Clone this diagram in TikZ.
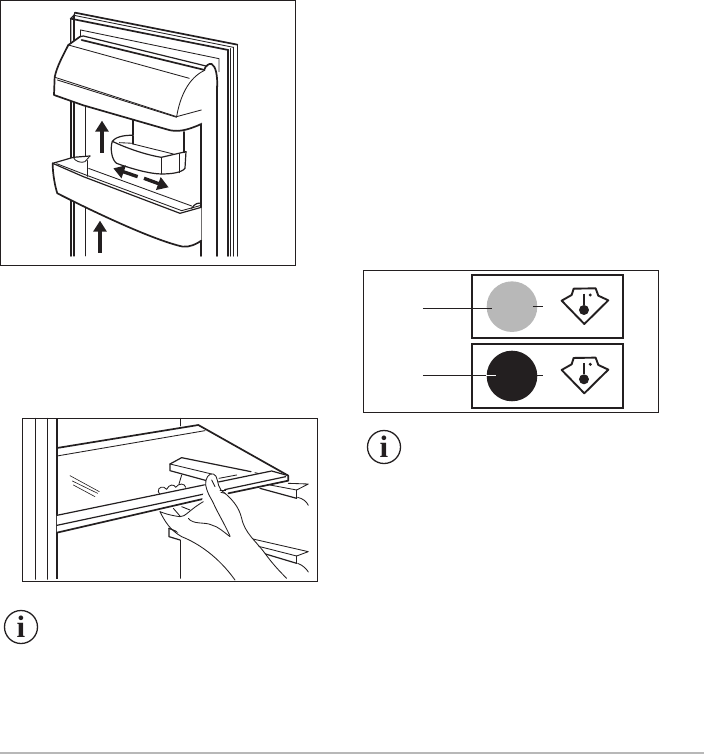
\documentclass[tikz,border=0pt]{standalone}
\usepackage{fontspec}
\newfontfamily\infofont{Liberation Serif}
\usetikzlibrary{arrows.meta}
\definecolor{ink}{HTML}{231F20}
\tikzset{
  ln/.style={draw=ink,line width=0.85pt,line join=round,line cap=round},
  thin line/.style={draw=ink,line width=0.6pt,line join=round,line cap=round},
  mid/.style={draw=ink,line width=1.2pt,line join=round,line cap=round},
  thick line/.style={draw=ink,line width=1.7pt,line join=round,line cap=round},
  frame/.style={draw=ink,line width=1pt},
  wf/.style={fill=white},
  bigarrow/.style={draw=ink,line width=3.4pt,-{Triangle[length=11pt,width=13pt]}},
  info/.style={circle,draw=ink,line width=1.3pt,minimum size=33pt,inner sep=0pt,font=\infofont\bfseries\fontsize{31}{31}\selectfont,text=ink},
  lamp/.style={circle,minimum size=50.6pt,inner sep=0pt},
  leader/.style={draw=ink,line width=1pt},
  tip/.style={draw=ink,line width=1.9pt,line join=round,fill=white}
}
\newcommand{\thermoicon}[1]{%
  \begin{scope}[yshift=#1]
    \path[tip] (620,107) -- (650,90) .. controls (654,86) and (652,76) .. (656,71) -- (722,70)
      .. controls (727,76) and (725,86) .. (730,92) -- (760,106) -- (688,177) -- cycle;
    \draw[ink,line width=2.4pt] (687,86) -- (687,120);
    \fill[ink] (687,135) circle (15);
    \fill[ink] (706,90) circle (5);
  \end{scope}}
\begin{document}
\begin{tikzpicture}[x=1pt,y=-1pt]
\useasboundingbox (0,0) rectangle (704,754);
\fill[white] (0,0) rectangle (704,754);
% footer rule
\fill[black!28] (0,752) rectangle (704,754);

% ---------- door panel
\begin{scope}[x=0.3333pt,y=-0.3333pt]
\draw[frame] (1,1) rectangle (886,798);
% door frame
\path[thick line] (225,38) -- (712,134);
\path[ln] (222,46) -- (700,142);
\path[thick line] (212,56) -- (685,150);
\path[mid] (225,38) -- (222,46) -- (212,56) -- (212,130);
\path[mid] (222,46) -- (222,130);
\path[mid] (712,134) -- (712,768);
\path[mid] (700,142) -- (700,768);
\path[thick line] (685,150) -- (685,768);
\path[mid] (692,146) -- (692,768);
\path[ln] (242,90) -- (657,176) -- (657,215);
\path[ln] (242,90) -- (242,110);
\path[thick line] (214,300) -- (214,768);
\path[mid] (222,305) -- (222,768);
\path[ln] (257,318) -- (257,768);
\path[thick line] (604,370) -- (604,768);
\path[thick line] (652,245) -- (652,768);
% door side column
\path[thick line,wf] (612,210) .. controls (618,195) and (628,190) .. (635,192)
  .. controls (648,200) and (652,225) .. (652,260);
% upper shelf
\fill[white] (245,108) -- (205,135) -- (164,232) -- (162,285) -- (250,315) -- (530,395) -- (604,372) -- (612,205) -- cycle;
\path[thick line] (240,110) -- (205,135) .. controls (190,165) and (170,200) .. (164,232)
  -- (162,285) -- (250,316) -- (500,388)
  .. controls (530,398) and (560,392) .. (604,372);
\path[mid] (240,110) -- (250,108) -- (618,198);
\path[thick line] (245,120) -- (614,210);
\path[ln] (205,135) -- (568,235);
\path[ln] (165,232) -- (530,350);
\path[ln] (172,240) -- (530,352);
\path[ln] (530,350) .. controls (540,290) and (565,235) .. (612,212);
\path[ln] (530,350) -- (604,330);
% bracket under the shelf
\path[mid] (399,360) -- (399,408);
\path[mid] (552,396) -- (552,460);
% small bin
\fill[white] (399,406) .. controls (370,405) and (345,412) .. (337,424)
  .. controls (330,445) and (335,480) .. (350,490)
  .. controls (390,505) and (450,522) .. (484,522)
  .. controls (515,522) and (545,518) .. (555,505) -- (558,455) -- (500,420) -- cycle;
\path[mid] (399,406) .. controls (370,405) and (345,412) .. (337,424)
  .. controls (330,445) and (335,480) .. (350,490)
  .. controls (390,505) and (450,522) .. (484,522)
  .. controls (515,522) and (545,518) .. (555,505) -- (558,455);
\path[mid] (337,424) .. controls (380,445) and (440,465) .. (484,472) -- (558,455);
\path[ln] (484,472) -- (484,522);
\path[ln] (399,432) -- (520,462);
\path[ln] (538,462) -- (538,518);
\path[ln] (358,428) -- (399,430);
\path[mid] (399,408) -- (399,432);
\path[mid] (552,396) -- (552,458);
% lower shelf
\path[ln] (265,505) -- (575,618);
\fill[white] (158,490) -- (220,472) -- (270,468) -- (262,530) -- cycle;
\path[mid] (158,490) -- (220,472) -- (270,468);
\path[ln] (220,472) .. controls (225,485) and (245,490) .. (255,485) -- (270,468);
\path[mid] (262,482) -- (262,530);
\fill[white] (158,490) .. controls (158,520) and (165,560) .. (172,580)
  .. controls (290,640) and (460,720) .. (548,740)
  .. controls (570,742) and (590,732) .. (604,722) -- (604,622)
  -- (545,640) -- (262,530) -- cycle;
\path[thick line] (158,490) .. controls (158,520) and (165,560) .. (172,580)
  .. controls (290,640) and (460,720) .. (548,740)
  .. controls (570,742) and (590,732) .. (604,722);
\path[mid] (158,490) -- (250,530) -- (540,640) -- (604,622);
\path[ln] (170,491) -- (255,524) -- (545,632) -- (604,616);
\path[mid] (575,625) .. controls (585,610) and (595,608) .. (604,610);
% arrows
\path[bigarrow] (306,458) -- (306,362);
\path[bigarrow] (300,758) -- (300,662);
\path[bigarrow] (413,530) -- (340,505);
\path[bigarrow] (432,535) -- (506,562);
\end{scope}

% ---------- shelf panel
\begin{scope}[xshift=15pt,yshift=-410pt,x=0.3333pt,y=-0.3333pt]
\draw[frame] (22,25) rectangle (907,516);
\path[ln] (62,25) -- (62,508);
\path[ln] (97,25) -- (97,508);
\path[draw=ink,line width=2pt] (126,25) -- (126,508);
\path[ln] (497,25) -- (497,48);
\path[ln] (495,390) -- (495,505);
% shelf
\path[thick line] (126,114) -- (550,45) -- (820,197);
\path[ln] (126,138) -- (570,62);
% pane scratches
\path[thin line] (165,197) -- (253,245);
\path[thin line] (172,213) -- (248,250);
\path[thin line] (175,225) -- (240,260);
% right rails
\path[ln] (720,188) -- (808,210);
\path[ln] (820,220) -- (880,222) -- (845,240) -- (765,225);
\path[ln] (845,240) -- (845,265);
\path[mid] (735,235) -- (845,265);
\path[ln] (848,262) .. controls (865,266) and (875,275) .. (880,286);
% upper bracket
\path[mid] (465,162) -- (500,143) -- (708,185);
\path[ln] (465,162) -- (590,192);
\path[mid] (465,162) -- (465,182) -- (575,212);
\path[ln] (612,205) -- (665,195);
% lower rail and bracket
\path[mid] (462,355) -- (545,390);
\path[mid] (462,355) -- (462,380) -- (495,390);
\path[ln] (705,385) -- (880,425) -- (845,438) -- (715,405);
\path[ln] (845,438) -- (845,460);
\path[mid] (745,430) -- (845,460);
\path[ln] (848,460) .. controls (865,466) and (875,478) .. (880,486);
% fingers behind the shelf
\path[ln] (440,262) -- (430,245) .. controls (428,232) and (445,225) .. (455,238)
  .. controls (462,222) and (478,222) .. (482,232)
  .. controls (492,218) and (510,220) .. (512,232);
\path[ln] (500,195) -- (492,222);
% front edge of the shelf
\fill[white] (126,315) -- (780,183) -- (820,197) -- (820,212) -- (126,368) -- cycle;
\path[mid] (126,316) -- (770,183) -- (820,197);
\path[mid] (126,346) -- (812,200);
\path[thick line] (126,368) -- (585,262);
\path[thick line] (640,250) -- (820,212) -- (820,197);
% thumb and hand
\fill[white] (580,196) .. controls (590,186) and (605,192) .. (608,215)
  -- (645,260) -- (690,360) -- (735,415) -- (815,505) -- (650,505) -- (500,380) -- (435,305)
  -- (560,280) -- (570,220) -- cycle;
\path[ln] (572,225) .. controls (570,205) and (582,188) .. (595,192)
  .. controls (610,195) and (605,225) .. (618,240)
  .. controls (650,265) and (672,290) .. (680,325)
  .. controls (690,370) and (720,390) .. (750,430)
  .. controls (775,465) and (800,490) .. (815,505);
\path[ln] (572,225) .. controls (578,255) and (590,265) .. (600,290)
  .. controls (615,320) and (630,345) .. (645,378);
\path[ln] (590,210) -- (600,230);
\path[ln] (615,240) -- (632,240);
\path[ln] (618,247) -- (630,250);
% palm
\path[ln] (435,305) .. controls (450,335) and (465,360) .. (500,380)
  .. controls (550,400) and (610,440) .. (660,510);
\path[ln] (435,305) .. controls (460,315) and (480,318) .. (495,320)
  .. controls (510,322) and (525,298) .. (565,275);
\path[ln] (475,295) -- (495,318);
\path[ln] (500,290) -- (525,300);
\path[ln] (520,325) .. controls (535,345) and (570,335) .. (590,345)
  .. controls (610,350) and (625,365) .. (645,380);
\end{scope}

% ---------- indicator panel
\begin{scope}[xshift=355pt,yshift=-265pt,x=0.3333pt,y=-0.3333pt]
\draw[draw=ink,line width=0.8pt] (25,17) rectangle (910,442);
\draw[draw=ink,line width=1.8pt] (350,30) rectangle (805,219);
\draw[draw=ink,line width=1.8pt] (350,238) rectangle (805,430);
\node[lamp,fill=black!28] (lampon) at (471,125) {};
\node[lamp,fill=ink] (lampoff) at (471,333) {};
\coordinate (onlabel) at (204,130);
\coordinate (onend) at (410,130);
\coordinate (offlabel) at (204,331);
\coordinate (offend) at (424,331);
\coordinate (onright) at (564,124);
\coordinate (offright) at (564,331);
\draw[leader] (onlabel) -- (onend);
\draw[leader] (offlabel) -- (lampoff.west |- offlabel);
\draw[white,line width=0.7pt] (lampoff.west |- offlabel) -- (offend);
\draw[leader] (534,124) -- (onright);
\draw[leader] (547,331) -- (offright);
\thermoicon{0pt}
\thermoicon{-69.3pt}
\end{scope}

% ---------- info icons
\node[info] (infotop) at (384,447) {i};
\node[info] (infobottom) at (21,627) {i};
\end{tikzpicture}
\end{document}
